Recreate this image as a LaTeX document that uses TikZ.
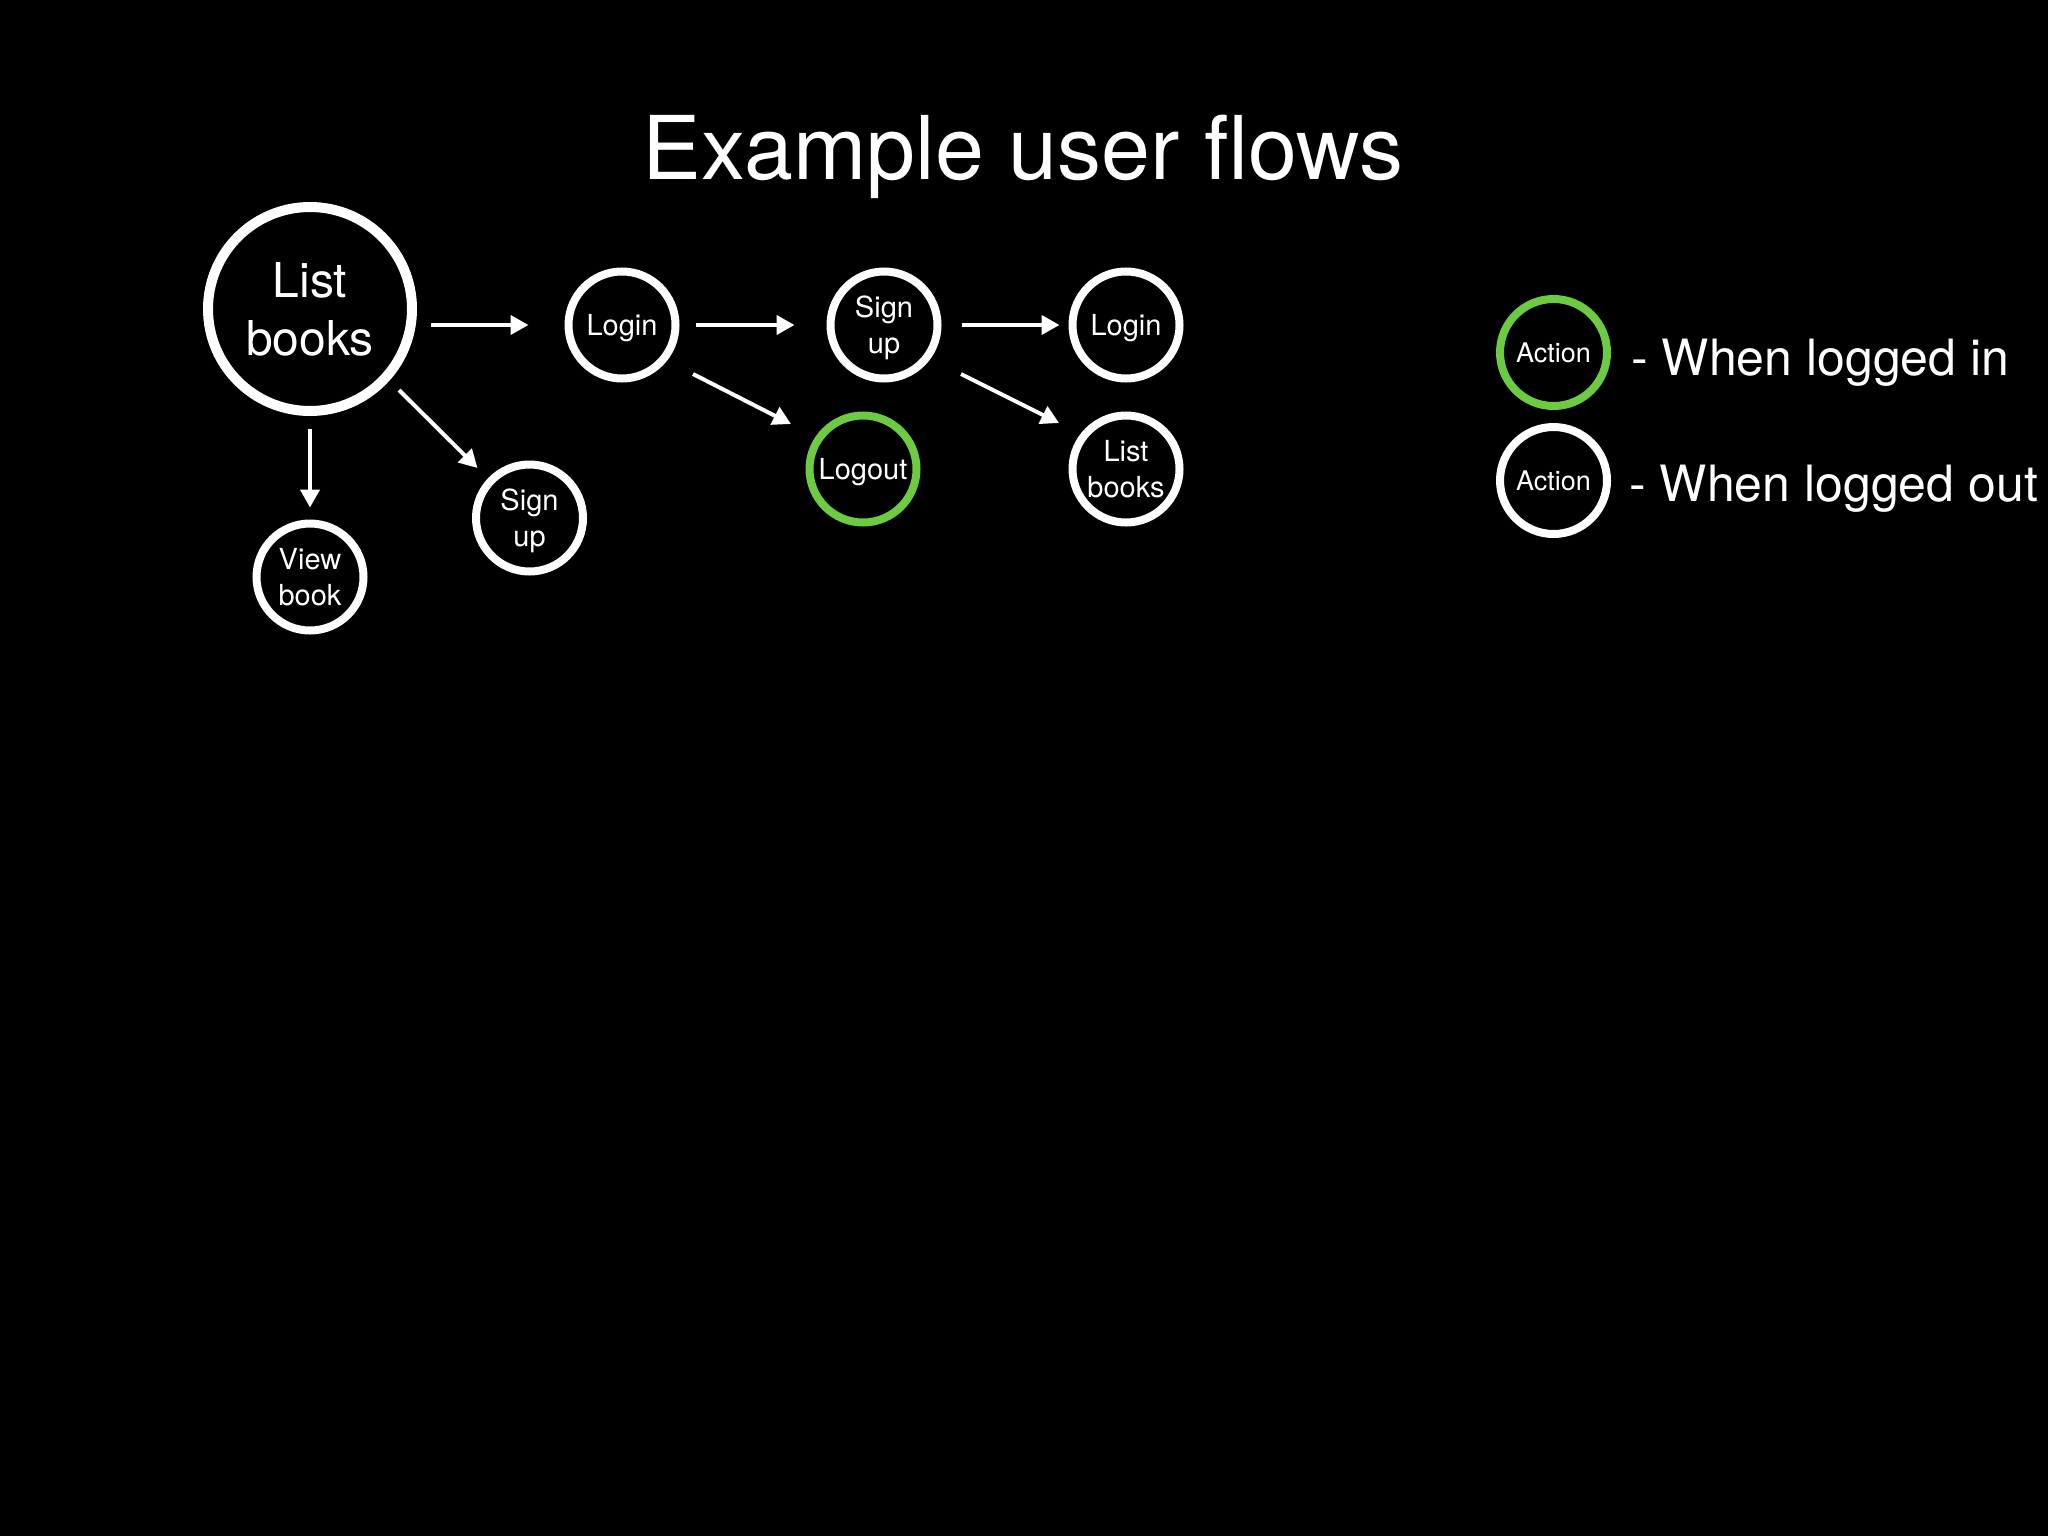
\documentclass[tikz,border=0pt]{standalone}
\usepackage{fontspec}
\setmainfont{TeX Gyre Heros}
\usetikzlibrary{arrows.meta,calc}
\definecolor{grn}{RGB}{108,203,64}
\begin{document}
\begin{tikzpicture}[x=0.5pt,y=-0.5pt,
  act/.style={circle,draw=white,line width=4pt,minimum size=53.5pt,inner sep=0pt,text=white,font=\fontsize{14.5}{18}\selectfont,align=center,text depth=0pt},
  big/.style={act,line width=5pt,minimum size=102pt,font=\fontsize{24}{29}\selectfont},
  green/.style={act,draw=grn},
  arr/.style={draw=white,line width=2pt,-{Triangle[length=9pt,width=9.5pt]}},
  lbl/.style={anchor=base west,text=white,inner sep=0pt,font=\fontsize{25}{30}\selectfont}]
\fill[black] (0,0) rectangle (2048,1536);
\useasboundingbox (0,0) rectangle (2048,1536);

\node[anchor=base,text=white,font=\fontsize{44}{50}\selectfont] (title) at (1023,179) {Example user flows};

\node[big] (lb) at (310,309) {List\\books};
\node[act] (vb) at (310,577) {View\\book};
\node[act] (su) at (529.5,518) {Sign\\up};
\node[act] (l1) at (622,325) {Login};
\node[act] (s2) at (884,325) {Sign\\up};
\node[act] (l3) at (1126,325) {Login};
\node[green] (lo) at (863,469) {Logout};
\node[act] (lb2) at (1126,469) {List\\books};

\draw[arr,shorten <=7pt,shorten >=18pt] (l1.west -| lb.east) -- (l1.west);
\draw[arr,shorten <=8pt,shorten >=16pt] (l1) -- (s2);
\draw[arr,shorten <=10pt,shorten >=4.5pt] (s2) -- (l3);
\draw[arr] ([shift={(71,49)}]l1.center) -- ([shift={(-72,-45)}]lo.center);
\draw[arr] ([shift={(77,49)}]s2.center) -- ([shift={(-67,-46)}]lb2.center);
\draw[arr,shorten <=6.5pt,shorten >=6pt] (lb) -- (vb);
\draw[arr] ([shift={(89,81)}]lb.center) -- ([shift={(-52,-50)}]su.center);

\node[green,font=\fontsize{13.5}{16}\selectfont] (lg) at (1553.5,352.5) {Action};
\node[act,font=\fontsize{13.5}{16}\selectfont] (lw) at (1553.5,480.5) {Action};
\node[lbl] (tin) at (1631,375) {- When logged in};
\node[lbl] (tout) at (1629,501) {- When logged out};
\end{tikzpicture}
\end{document}
